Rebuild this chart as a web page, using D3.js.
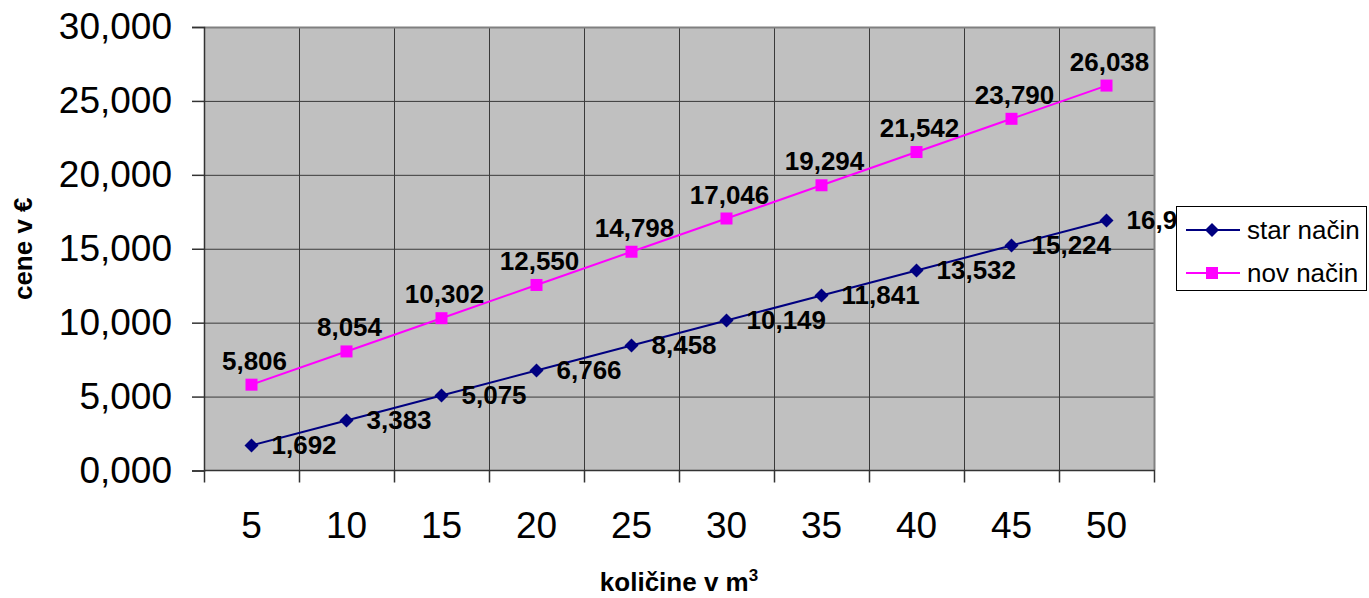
<!DOCTYPE html>
<html><head><meta charset="utf-8">
<script src="https://cdn.jsdelivr.net/npm/d3@7"></script>
<style>body{margin:0;background:#fff}svg{display:block;font-family:"Liberation Sans",Arial,sans-serif}</style>
</head><body><svg id="c" width="1369" height="598"></svg>
<script>
const categories = ["5","10","15","20","25","30","35","40","45","50"];
const starValues = [1.692,3.383,5.075,6.766,8.458,10.149,11.841,13.532,15.224,16.916];
const novValues = [5.806,8.054,10.302,12.550,14.798,17.046,19.294,21.542,23.790,26.038];
const yTicks = [0,5,10,15,20,25,30];
const seriesNames = ["star način","nov način"];

const svg = d3.select("#c");
const L=204, R=1154, T=27, B=470.5;
const x = d3.scaleBand().domain(categories).range([L,R]);
const y = d3.scaleLinear().domain([0,30]).range([B,T]);
const fmt = v => d3.format(".3f")(v).replace(".", ",");
const diamond = "M0,-7L7,0L0,7L-7,0Z";

// plot area
svg.append("rect").attr("x",L).attr("y",T).attr("width",R-L).attr("height",B-T).attr("fill","#c0c0c0");
// horizontal grid
svg.append("g").selectAll("line").data(yTicks.slice(1)).join("line")
  .attr("x1",L).attr("x2",R).attr("y1",d=>y(d)+0.5).attr("y2",d=>y(d)+0.5)
  .attr("stroke","#3a3a3a").attr("stroke-width",1);
// vertical grid at category boundaries
const bounds = categories.slice(1).map(c=>x(c));
svg.append("g").selectAll("line").data(bounds).join("line")
  .attr("x1",d=>Math.round(d)+0.5).attr("x2",d=>Math.round(d)+0.5).attr("y1",T).attr("y2",B)
  .attr("stroke","#3a3a3a").attr("stroke-width",1);
// border top/right gray
svg.append("path").attr("d",`M${L},${T+0.5}H${R+0.5}V${B}`).attr("fill","none").attr("stroke","#808080").attr("stroke-width",2);

// y axis
const yAxis = d3.axisLeft(y).tickValues(yTicks).tickSize(12).tickPadding(20).tickFormat(fmt);
const ga = svg.append("g").attr("transform",`translate(${L},0)`).call(yAxis);
ga.select(".domain").attr("stroke","#333").attr("stroke-width",1.5);
ga.selectAll(".tick line").attr("stroke","#333").attr("stroke-width",1.5);
ga.selectAll("text").attr("font-size",37).attr("font-family","'Liberation Sans',Arial,sans-serif").attr("fill","#000");

// x axis (ticks at category boundaries)
const xa = svg.append("g").attr("transform",`translate(0,${B})`);
xa.append("line").attr("x1",L).attr("x2",R+1).attr("y1",0).attr("y2",0).attr("stroke","#333").attr("stroke-width",1.5);
xa.selectAll("line.t").data([L,...bounds,R]).join("line").attr("class","t")
  .attr("x1",d=>Math.round(d)+0.5).attr("x2",d=>Math.round(d)+0.5).attr("y1",0).attr("y2",12)
  .attr("stroke","#333").attr("stroke-width",1.5);
xa.selectAll("text").data(categories).join("text")
  .attr("x",d=>x(d)+x.bandwidth()/2).attr("y",67).attr("text-anchor","middle")
  .attr("font-size",37).text(d=>d);

// lines
const cx = (d,i)=>x(categories[i])+x.bandwidth()/2;
const line = d3.line().x(cx).y(d=>y(d));
svg.append("path").datum(starValues).attr("d",line).attr("fill","none").attr("stroke","#000080").attr("stroke-width",2);
svg.append("path").datum(novValues).attr("d",line).attr("fill","none").attr("stroke","#ff00ff").attr("stroke-width",2);

// markers
svg.append("g").selectAll("path").data(starValues).join("path")
  .attr("d",diamond).attr("transform",(d,i)=>`translate(${cx(d,i)},${y(d)})`).attr("fill","#000080");
svg.append("g").selectAll("rect").data(novValues).join("rect")
  .attr("x",(d,i)=>cx(d,i)-6).attr("y",d=>y(d)-6).attr("width",12).attr("height",12).attr("fill","#ff00ff");

// data labels
svg.append("g").selectAll("text").data(starValues).join("text")
  .attr("x",(d,i)=>cx(d,i)+20).attr("y",d=>y(d)+9).attr("font-size",26).attr("font-weight","bold").text(d=>fmt(d));
svg.append("g").selectAll("text").data(novValues).join("text")
  .attr("x",(d,i)=>cx(d,i)+3).attr("y",d=>y(d)-15).attr("text-anchor","middle").attr("font-size",26).attr("font-weight","bold").text(d=>fmt(d));

// axis titles
svg.append("text").attr("transform",`translate(32,${(T+B)/2}) rotate(-90)`).attr("text-anchor","middle")
  .attr("font-size",26).attr("font-weight","bold").text("cene v €");
const xt = svg.append("text").attr("x",(L+R)/2).attr("y",591).attr("text-anchor","middle").attr("font-size",26).attr("font-weight","bold");
xt.append("tspan").text("količine v m");
xt.append("tspan").attr("font-size",17).attr("dy",-10).text("3");

// legend
const lg = svg.append("g");
lg.append("rect").attr("x",1176.5).attr("y",206.5).attr("width",190).attr("height",84).attr("fill","#fff").attr("stroke","#000").attr("stroke-width",1);
const rows = [{n:seriesNames[0],c:"#000080",m:"d"},{n:seriesNames[1],c:"#ff00ff",m:"s"}];
rows.forEach((r,i)=>{
  const yy = 230 + i*43;
  lg.append("line").attr("x1",1186).attr("x2",1240).attr("y1",yy).attr("y2",yy).attr("stroke",r.c).attr("stroke-width",2);
  if(r.m==="d") lg.append("path").attr("d",diamond).attr("transform",`translate(1212,${yy})`).attr("fill",r.c);
  else lg.append("rect").attr("x",1206).attr("y",yy-6).attr("width",12).attr("height",12).attr("fill",r.c);
  lg.append("text").attr("x",1247).attr("y",yy+9).attr("font-size",26).text(r.n);
});
</script></body></html>
